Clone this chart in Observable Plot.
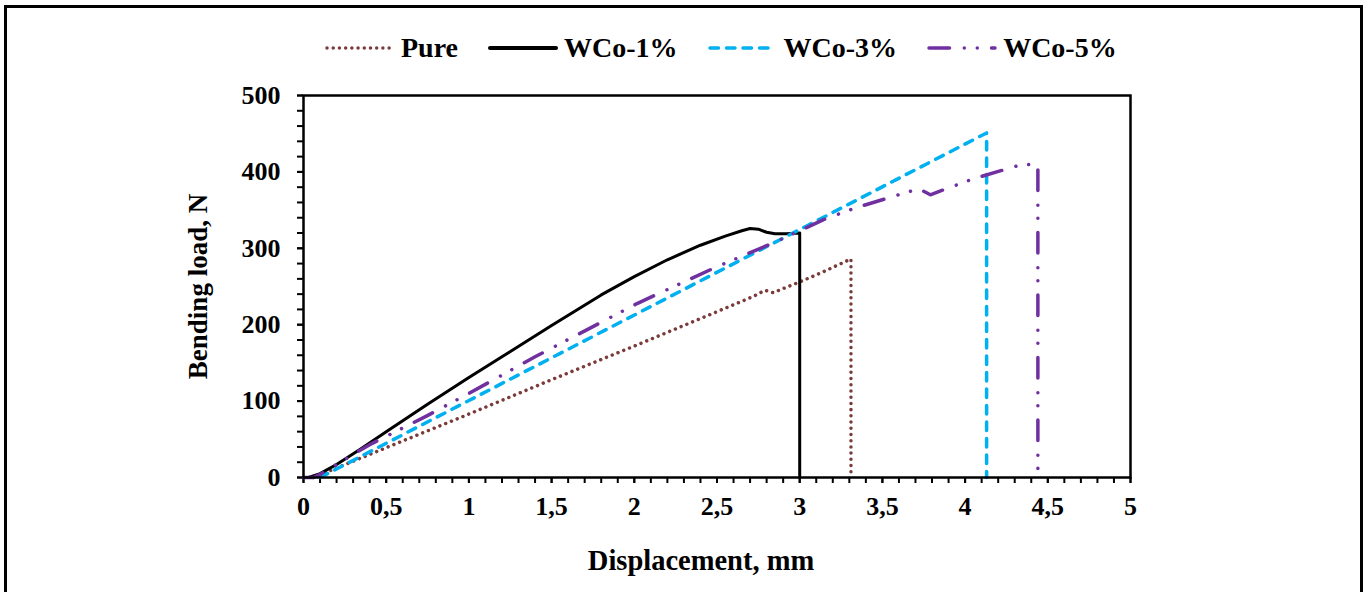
<!DOCTYPE html>
<html>
<head>
<meta charset="utf-8">
<script src="https://cdn.jsdelivr.net/npm/d3@7"></script>
<script src="https://cdn.jsdelivr.net/npm/@observablehq/plot@0.6"></script>
<style>
  html, body { margin: 0; padding: 0; background: #fff; }
  body { font-family: "Liberation Serif", "Times New Roman", serif; }
  #wrap { position: relative; width: 1368px; height: 592px; overflow: hidden; }
  #border { position: absolute; left: 4px; top: 5px; width: 1353px; height: 640px; border: 3px solid #000; pointer-events: none; }
  #legend { position: absolute; left: 325px; top: 30px; height: 36px; display: flex; align-items: center; font-weight: bold; font-size: 28px; color: #000; }
  #legend .item { display: flex; align-items: center; margin-right: 30px; }
  #legend svg { display: block; margin-right: 6px; }
  #chart { position: absolute; left: 0; top: 80px; }
</style>
</head>
<body>
<div id="wrap">
  <div id="legend"></div>
  <div id="chart"></div>
  <div id="border"></div>
</div>
<script>
// ---- data ----
const seriesNames = ["Pure", "WCo-1%", "WCo-3%", "WCo-5%"];

const pureX = [0.06, 0.5, 1.0, 1.5, 2.0, 2.5, 2.72, 2.79, 2.84, 3.0, 3.13, 3.31, 3.31];
const pureY = [0, 39, 83, 128, 172, 217, 237, 245, 242, 256, 268, 286, 0];

const wco1X = [0.03, 0.1, 0.2, 0.35, 0.5, 0.75, 1.0, 1.2, 1.5, 1.8, 2.0, 2.2, 2.4, 2.55, 2.65, 2.7, 2.75, 2.8, 2.85, 2.92, 3.0, 3.0];
const wco1Y = [0, 5, 17, 38, 60, 96, 131, 158, 199, 239, 263, 285, 304, 316, 323, 326, 325, 321, 319, 319, 320, 0];

const wco3X = [0.1, 4.13, 4.13];
const wco3Y = [0, 451, 0];

const wco5X = [0, 0.06, 0.1, 0.16, 0.4, 0.74, 1.0, 1.4, 2.02, 2.49, 2.84, 3.0, 3.16, 3.34, 3.55, 3.72, 3.79, 3.9, 4.05, 4.27, 4.35, 4.44, 4.44];
const wco5Y = [0, 0, 4, 12, 43, 80, 110, 158, 228, 275, 307, 323, 339, 353, 367, 378, 370, 379, 391, 405, 410, 409, 0];

const xMajorTicks = [0, 0.5, 1, 1.5, 2, 2.5, 3, 3.5, 4, 4.5, 5];
const yMajorTicks = [0, 100, 200, 300, 400, 500];
const xTitle = "Displacement, mm";
const yTitle = "Bending load, N";

// ---- styles per series ----
const styles = {
  "Pure":   { stroke: "#7b3b3b", width: 3.5, dash: "0.01 6.2", cap: "round" },
  "WCo-1%": { stroke: "#000000", width: 3,   dash: null,       cap: "round" },
  "WCo-3%": { stroke: "#00b0f0", width: 3.5, dash: "8.5 8",    cap: "round" },
  "WCo-5%": { stroke: "#7030a0", width: 3.5, dash: "20.5 14.75 0.01 13 0.01 14.25", cap: "round" }
};

const raw = {
  "Pure": [pureX, pureY],
  "WCo-1%": [wco1X, wco1Y],
  "WCo-3%": [wco3X, wco3Y],
  "WCo-5%": [wco5X, wco5Y]
};

const rows = {};
for (const s of seriesNames) {
  const [xs, ys] = raw[s];
  rows[s] = xs.map((x, i) => ({ x, y: ys[i], series: s }));
}

const xMinor = d3.range(0, 51).map(i => i / 10);
const yMinor = d3.range(0, 26).map(i => i * 20);
const fmt = d => String(d).replace(".", ",");

const lineMarks = seriesNames.map(s => Plot.line(rows[s], {
  x: "x", y: "y",
  stroke: styles[s].stroke,
  strokeWidth: styles[s].width,
  strokeDasharray: styles[s].dash,
  strokeLinecap: styles[s].cap,
  strokeLinejoin: "round",
  curve: "linear"
}));

const chart = Plot.plot({
  width: 1368,
  height: 512,
  marginLeft: 303,
  marginRight: 238,
  marginTop: 15,
  marginBottom: 115,
  x: { domain: [0, 5] },
  y: { domain: [0, 500] },
  style: { fontFamily: "'Liberation Serif', 'Times New Roman', serif", fontWeight: "bold", color: "#000", background: "transparent", overflow: "visible" },
  marks: [
    Plot.axisX(xMinor, { tickSize: 6, strokeWidth: 2, tickFormat: () => "", label: null }),
    Plot.axisX(xMajorTicks, { tickSize: 6, strokeWidth: 2, tickPadding: 13, tickFormat: fmt, fontSize: 26, fontWeight: "bold", label: null }),
    Plot.axisY(yMinor, { tickSize: 6, strokeWidth: 2, tickFormat: () => "", label: null }),
    Plot.axisY(yMajorTicks, { tickSize: 6, strokeWidth: 2, tickPadding: 17, tickFormat: d => String(d), fontSize: 26, fontWeight: "bold", label: null }),
    ...lineMarks,
    Plot.frame({ stroke: "#000", strokeWidth: 2.5 }),
    Plot.text([xTitle], { text: d => d, frameAnchor: "bottom", dy: 83, dx: -16, lineAnchor: "middle", textAnchor: "middle", fontSize: 28.5, fontWeight: "bold", fill: "#000" }),
    Plot.text([yTitle], { text: d => d, frameAnchor: "left", dx: -105, rotate: -90, lineAnchor: "middle", textAnchor: "middle", fontSize: 27, fontWeight: "bold", fill: "#000" })
  ]
});
document.getElementById("chart").appendChild(chart);

// ---- legend ----
const legend = d3.select("#legend");
for (const s of seriesNames) {
  const st = styles[s];
  const item = legend.append("div").attr("class", "item");
  const svg = item.append("svg").attr("width", 70).attr("height", 12);
  svg.append("line")
    .attr("x1", 2).attr("x2", 68).attr("y1", 6).attr("y2", 6)
    .attr("stroke", st.stroke)
    .attr("stroke-width", s === "WCo-1%" ? 4 : st.width)
    .attr("stroke-dasharray", st.dash)
    .attr("stroke-linecap", st.cap);
  item.append("span").text(s);
}
</script>
</body>
</html>
